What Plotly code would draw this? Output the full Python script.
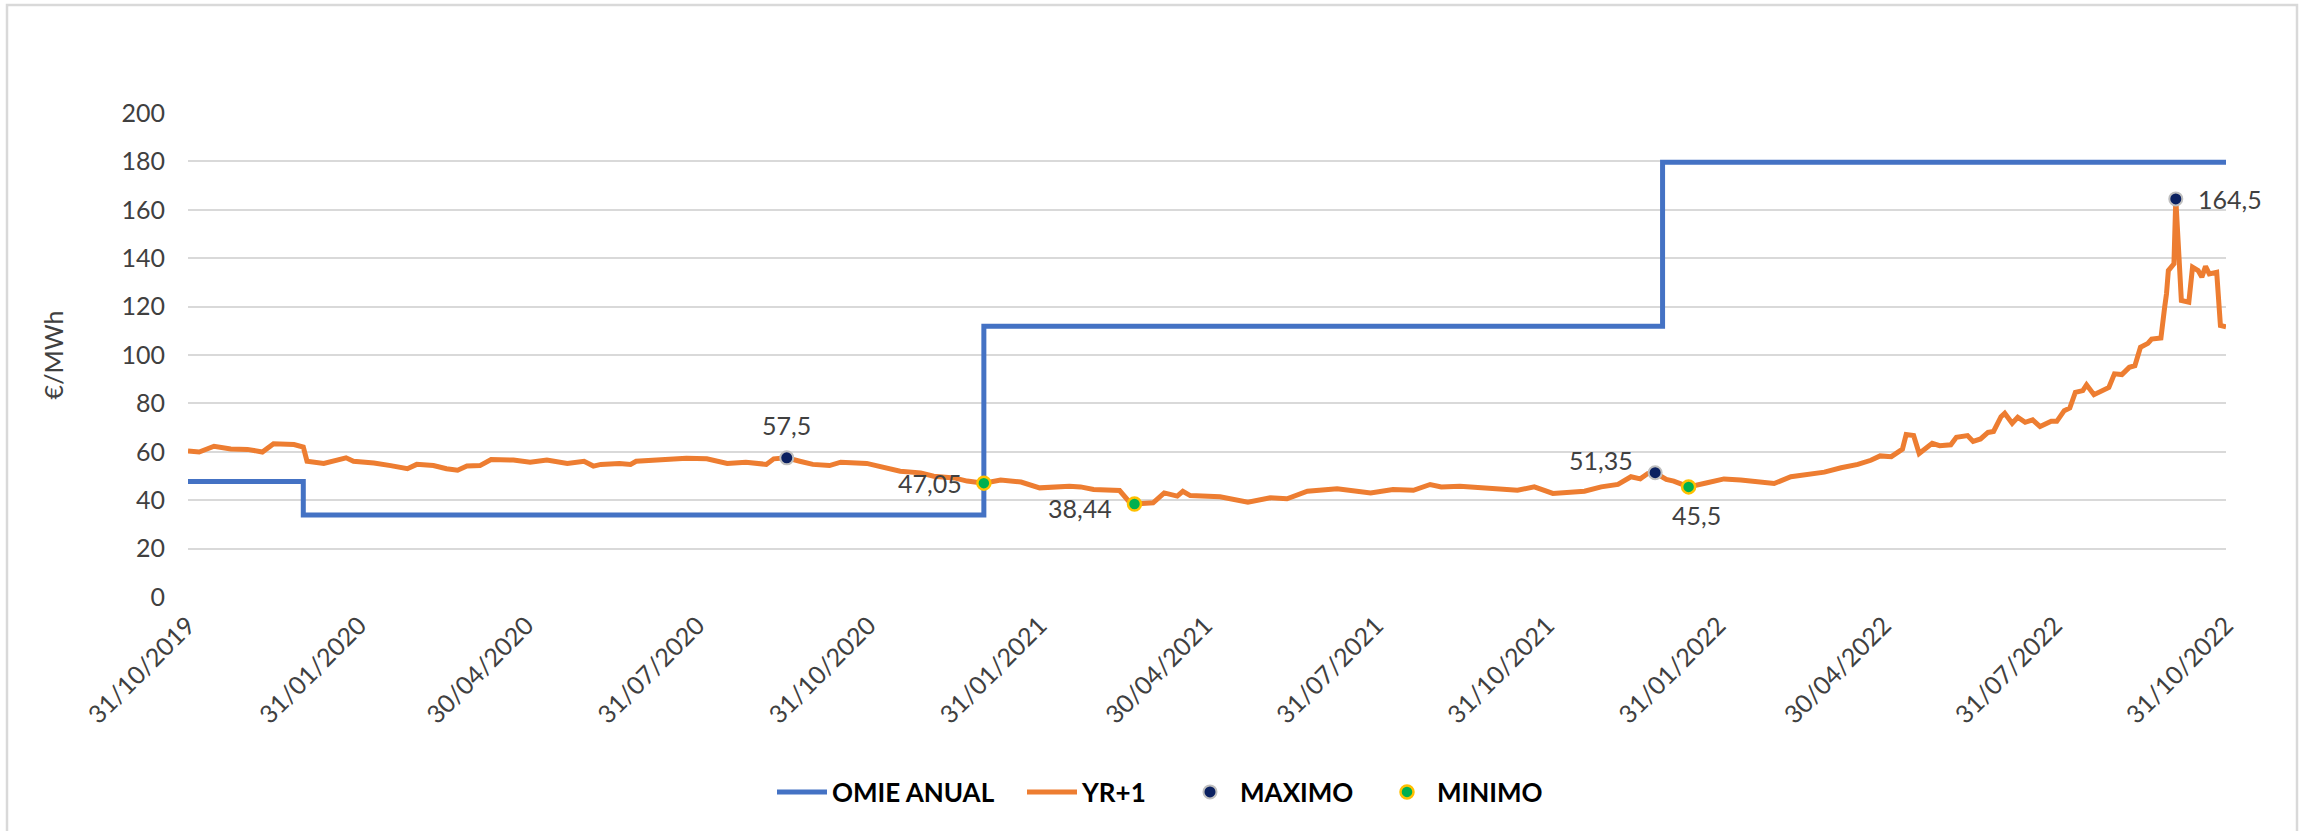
import plotly.graph_objects as go

# ---------------- data ----------------
omie_dates = ["2019-10-31", "2020-01-01", "2021-01-01", "2022-01-01", "2022-10-31"]
omie_vals = [47.7, 33.9, 111.9, 179.6, 179.6]

yr_dates = [
    "2019-10-31", "2019-11-06", "2019-11-14", "2019-11-23", "2019-12-02", "2019-12-10",
    "2019-12-16", "2019-12-27", "2020-01-01", "2020-01-03", "2020-01-12", "2020-01-21",
    "2020-01-24", "2020-01-28", "2020-02-08", "2020-02-17", "2020-02-26", "2020-03-02",
    "2020-03-11", "2020-03-18", "2020-03-24", "2020-03-29", "2020-04-05", "2020-04-11",
    "2020-04-23", "2020-05-02", "2020-05-11", "2020-05-22", "2020-05-31", "2020-06-05",
    "2020-06-09", "2020-06-19", "2020-06-25", "2020-06-28", "2020-07-15", "2020-07-25",
    "2020-08-05", "2020-08-16", "2020-08-26", "2020-09-06", "2020-09-10", "2020-09-17",
    "2020-09-24", "2020-10-01", "2020-10-10", "2020-10-16", "2020-10-30", "2020-11-08",
    "2020-11-17", "2020-11-28", "2020-12-05", "2020-12-16", "2020-12-23", "2021-01-01",
    "2021-01-10", "2021-01-21", "2021-01-31", "2021-02-16", "2021-02-22", "2021-03-01",
    "2021-03-15", "2021-03-20", "2021-03-23", "2021-04-02", "2021-04-08", "2021-04-15",
    "2021-04-18", "2021-04-22", "2021-05-08", "2021-05-23", "2021-06-04", "2021-06-13",
    "2021-06-24", "2021-07-10", "2021-07-28", "2021-08-09", "2021-08-20", "2021-08-29",
    "2021-09-04", "2021-09-14", "2021-09-30", "2021-10-15", "2021-10-24", "2021-11-03",
    "2021-11-20", "2021-11-29", "2021-12-08", "2021-12-15", "2021-12-20", "2021-12-24",
    "2021-12-28", "2022-01-03", "2022-01-07", "2022-01-15", "2022-01-25", "2022-02-03",
    "2022-02-12", "2022-02-21", "2022-03-02", "2022-03-11", "2022-03-20", "2022-03-29",
    "2022-04-07", "2022-04-16", "2022-04-23", "2022-04-28", "2022-05-04", "2022-05-07",
    "2022-05-10", "2022-05-12", "2022-05-16", "2022-05-19", "2022-05-23", "2022-05-26",
    "2022-05-30", "2022-06-05", "2022-06-08", "2022-06-14", "2022-06-17", "2022-06-21",
    "2022-06-25", "2022-06-28", "2022-07-02", "2022-07-04", "2022-07-08", "2022-07-11",
    "2022-07-15", "2022-07-19", "2022-07-23", "2022-07-29", "2022-08-01", "2022-08-05",
    "2022-08-08", "2022-08-11", "2022-08-15", "2022-08-17", "2022-08-21", "2022-08-25",
    "2022-08-29", "2022-09-01", "2022-09-05", "2022-09-09", "2022-09-12", "2022-09-15",
    "2022-09-19", "2022-09-21", "2022-09-26", "2022-09-28", "2022-09-29", "2022-09-30",
    "2022-10-03", "2022-10-04", "2022-10-05", "2022-10-07", "2022-10-11", "2022-10-13",
    "2022-10-16", "2022-10-18", "2022-10-20", "2022-10-22", "2022-10-26", "2022-10-28",
    "2022-10-31",
]
yr_vals = [
    60.3, 59.9, 62.3, 61.2, 61.0, 59.9,
    63.3, 63.0, 62.0, 56.1, 55.2, 56.8,
    57.5, 56.1, 55.4, 54.3, 53.0, 54.8,
    54.3, 53.0, 52.4, 54.1, 54.3, 56.8,
    56.6, 55.7, 56.6, 55.2, 56.1, 54.1,
    54.8, 55.2, 54.8, 56.1, 56.8, 57.3,
    57.1, 55.2, 55.7, 54.8, 57.1, 57.5,
    56.1, 54.8, 54.3, 55.7, 55.2, 53.8,
    52.0, 51.3, 49.9, 49.2, 47.9, 47.05,
    48.3, 47.5, 45.1, 45.8, 45.5, 44.4,
    44.0, 39.5, 38.44, 38.9, 43.0, 41.7,
    43.7, 41.9, 41.4, 39.2, 41.0, 40.6,
    43.7, 44.7, 43.0, 44.4, 44.1, 46.5,
    45.5, 45.8, 45.1, 44.1, 45.5, 42.8,
    43.7, 45.5, 46.5, 49.7, 48.8, 51.0,
    51.35, 48.6, 47.9, 45.5, 47.2, 48.8,
    48.3, 47.5, 46.9, 49.7, 50.6, 51.6,
    53.4, 54.8, 56.5, 58.3, 58.0, 59.8,
    61.1, 67.1, 66.7, 59.3, 61.8, 63.5,
    62.5, 62.9, 66.0, 66.7, 64.3, 65.3,
    68.0, 68.4, 74.5, 75.9, 71.8, 74.3,
    72.2, 73.2, 70.4, 72.6, 72.6, 77.0,
    78.1, 84.6, 85.3, 87.7, 83.6, 85.0,
    86.6, 92.2, 91.9, 94.9, 95.6, 103.2,
    104.8, 106.6, 107.0, 119.7, 125.3, 134.9,
    137.7, 164.5, 152.8, 122.5, 121.8, 136.3,
    134.9, 132.2, 136.6, 133.5, 134.2, 112.2,
    111.7,
]

max_dates = ["2020-09-17", "2021-12-28", "2022-10-04"]
max_vals = [57.5, 51.35, 164.5]
min_dates = ["2021-01-01", "2021-03-23", "2022-01-15"]
min_vals = [47.05, 38.44, 45.5]

tick_dates = ["2019-10-31", "2020-01-31", "2020-04-30", "2020-07-31", "2020-10-31",
              "2021-01-31", "2021-04-30", "2021-07-31", "2021-10-31", "2022-01-31",
              "2022-04-30", "2022-07-31", "2022-10-31"]
tick_text = ["31/10/2019", "31/01/2020", "30/04/2020", "31/07/2020", "31/10/2020",
             "31/01/2021", "30/04/2021", "31/07/2021", "31/10/2021", "31/01/2022",
             "30/04/2022", "31/07/2022", "31/10/2022"]

# ---------------- style ----------------
FONT = "Lato"
TXT = "#404040"
BLUE = "#4472C4"
ORANGE = "#ED7D31"
NAVY = "#0B2161"
GREEN = "#00B050"
GOLD = "#FFC000"
GRID = "#D9D9D9"

W, H = 2308, 831
ML, MR, MT, MB = 188, 82, 113, 234

fig = go.Figure()
fig.add_trace(go.Scatter(x=omie_dates, y=omie_vals, mode="lines", name="OMIE ANUAL",
                         line=dict(color=BLUE, width=5, shape="hv"), legend="legend"))
fig.add_trace(go.Scatter(x=yr_dates, y=yr_vals, mode="lines", name="YR+1",
                         line=dict(color=ORANGE, width=5), legend="legend2"))
fig.add_trace(go.Scatter(x=max_dates, y=max_vals, mode="markers", name="MAXIMO",
                         marker=dict(color=NAVY, size=13, line=dict(color="#BFBFBF", width=2)),
                         legend="legend3"))
fig.add_trace(go.Scatter(x=min_dates, y=min_vals, mode="markers", name="MINIMO",
                         marker=dict(color=GREEN, size=13, line=dict(color=GOLD, width=2.5)),
                         legend="legend4"))

# data labels (Excel-style positions)
label_style = [
    dict(xanchor="center", yanchor="middle", xshift=0, yshift=33),    # 57,5 above
    dict(xanchor="right", yanchor="middle", xshift=-20, yshift=13),   # 51,35 left-above
    dict(xanchor="left", yanchor="middle", xshift=20, yshift=0),      # 164,5 right
]
for d, v, st in zip(max_dates, max_vals, label_style):
    fig.add_annotation(x=d, y=v, text=f"{v:g}".replace(".", ","), showarrow=False,
                       font=dict(family=FONT, size=25, color=TXT), **st)
label_style_min = [
    dict(xanchor="right", yanchor="middle", xshift=-20, yshift=0),    # 47,05 left
    dict(xanchor="right", yanchor="middle", xshift=-20, yshift=-4),   # 38,44 left
    dict(xanchor="center", yanchor="middle", xshift=8, yshift=-28),   # 45,5 below
]
for d, v, st in zip(min_dates, min_vals, label_style_min):
    fig.add_annotation(x=d, y=v, text=f"{v:g}".replace(".", ","), showarrow=False,
                       font=dict(family=FONT, size=25, color=TXT), **st)

# outer chart-area frame (left, top, right edges visible)
pw, ph = W - ML - MR, H - MT - MB
fig.add_shape(type="rect", xref="paper", yref="paper", layer="below",
              x0=(7 - ML) / pw, x1=(2297 - ML) / pw,
              y0=(H - MB - 900) / ph, y1=(H - MB - 5) / ph,
              line=dict(color=GRID, width=2.5), fillcolor="rgba(0,0,0,0)")

leg_font = dict(family=FONT, size=26, color="#000000", weight="bold")
def leg(xpx):
    return dict(orientation="h", xref="container", yref="container",
                x=xpx / W, xanchor="left", y=1 - 792 / H, yanchor="middle",
                font=leg_font, bgcolor="rgba(0,0,0,0)", itemwidth=50)

fig.update_layout(
    width=W, height=H,
    margin=dict(l=ML, r=MR, t=MT, b=MB),
    paper_bgcolor="white", plot_bgcolor="white",
    font=dict(family=FONT, size=25, color=TXT),
    showlegend=True,
    legend=leg(772), legend2=leg(1022), legend3=leg(1180), legend4=leg(1377),
    xaxis=dict(type="date", range=["2019-10-31", "2022-10-31"],
               tickvals=tick_dates, ticktext=tick_text, tickangle=-45,
               showgrid=False, zeroline=False, showline=False, ticks="",
               tickfont=dict(family=FONT, size=25, color=TXT), ticklabelstandoff=8),
    yaxis=dict(range=[0, 200], dtick=20, tick0=0, showgrid=True, gridcolor=GRID, gridwidth=2,
               zeroline=False, showline=False, ticks="",
               tickfont=dict(family=FONT, size=25, color=TXT), ticklabelstandoff=22,
               title=dict(text="€/MWh", font=dict(family=FONT, size=25, color=TXT), standoff=50)),
)

fig.write_html("out.html", config={"displayModeBar": False},
               post_script="document.body.style.margin='0';document.body.style.padding='0';")
